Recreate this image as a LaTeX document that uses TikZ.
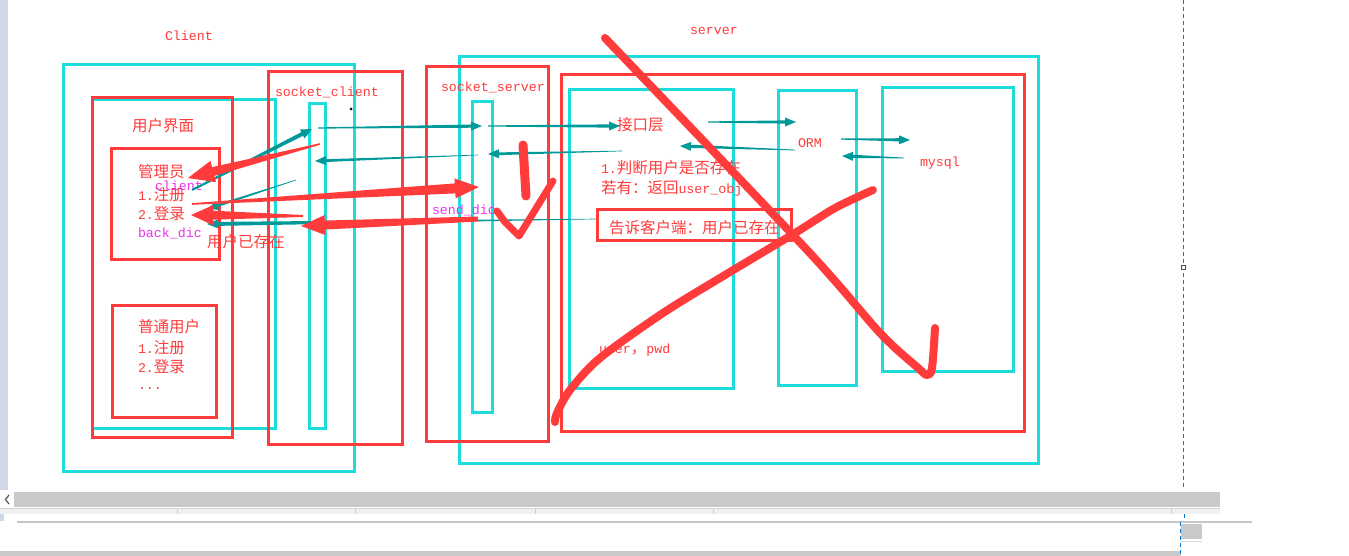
\documentclass[tikz,border=0pt]{standalone}
\usepackage{fontspec}
\setmainfont{Liberation Mono}
\newfontfamily\cjk{Noto Sans CJK SC}
\usetikzlibrary{calc}
\definecolor{cred}{HTML}{FF3B3B}
\definecolor{ccyan}{HTML}{1CDCDC}
\definecolor{cteal}{HTML}{009999}
\definecolor{cmag}{HTML}{EE33EE}
\definecolor{cside}{HTML}{D0D9E8}
\definecolor{cgray}{HTML}{C9C9C9}
\definecolor{clight}{HTML}{F0F0F0}
\definecolor{cblue}{HTML}{0A78D2}
\newcommand{\zh}[1]{{\cjk\fontsize{15.5}{18}\selectfont #1}}
% tapered arrow: color, from, to, tail half-width, shaft half-width, head length, head half-width
\newcommand{\tarrow}[7]{%
  \coordinate (tH) at ($(#3)!#6!(#2)$);
  \fill[#1] ($(#2)!#4!90:(#3)$) -- ($(tH)!#5!-90:(#2)$) -- ($(tH)!#7!-90:(#2)$) -- (#3)
    -- ($(tH)!#7!90:(#2)$) -- ($(tH)!#5!90:(#2)$) -- ($(#2)!#4!-90:(#3)$) -- cycle;}
\tikzset{
  txt/.style={inner sep=0pt, outer sep=0pt, anchor=west, text=cred, font=\fontsize{13.3}{16}\selectfont},
  mtxt/.style={txt, text=cmag},
  cbox/.style={draw=ccyan, line width=3pt},
  rbox/.style={draw=cred, line width=3pt},
  stroke/.style={draw=cred, line width=8pt, line cap=round, line join=round},
}
\begin{document}
\begin{tikzpicture}[x=1pt, y=-1pt]
\useasboundingbox (0,0) rectangle (1349,556);
\fill[white] (0,0) rectangle (1349,556);

% window chrome
\fill[cside] (0,0) rectangle (8,490);
\fill[cside] (0,512) rectangle (4,521);
\fill[cgray] (14,492) rectangle (1220,507);
\draw[gray!70!black, line width=1.2pt] (9,495) -- (5.5,499.5) -- (9,504);
\fill[clight] (0,508) rectangle (1220,514);
\draw[gray!35, line width=1pt] (0,508.5) -- (1220,508.5);
\foreach \xx in {177,355,535,713,1171} \draw[gray!40, line width=1pt] (\xx,509) -- (\xx,514);
\draw[gray!45, line width=1.2pt] (17,522) -- (1252,522);
\fill[cgray] (1181,524) rectangle (1202,539);
\draw[gray!30, line width=1pt] (1181,541) -- (1202,541);
\fill[cgray] (0,551) rectangle (1181,556);
\draw[cblue, line width=1pt, dash pattern=on 4pt off 3pt] (1183,0) -- (1183,490);
\draw[cblue, line width=1pt] (1184,514) -- (1184,518);
\draw[cblue, line width=1pt, dash pattern=on 4pt off 3pt] (1180,522) -- (1180,556);
\draw[gray!60!black, line width=0.8pt, fill=white] (1181,265) rectangle (1185,269);

% client side boxes
\draw[cbox] (63,65) rectangle (354,471);
\draw[cbox] (92,100) rectangle (275,428);
\draw[rbox] (92,98) rectangle (232,437);
\draw[rbox] (111,149) rectangle (219,259);
\draw[rbox] (112,305) rectangle (216,417);
\draw[rbox] (268,72) rectangle (402,444);
\draw[cbox] (309,104) rectangle (325,428);

% server side boxes
\draw[cbox] (459,57) rectangle (1038,463);
\draw[rbox] (426,67) rectangle (548,441);
\draw[cbox] (472,102) rectangle (492,412);
\draw[rbox] (561,75) rectangle (1024,431);
\draw[cbox] (569,90) rectangle (733,388);
\draw[cbox] (778,91) rectangle (856,385);
\draw[cbox] (882,88) rectangle (1013,371);
\draw[rbox] (597,210) rectangle (791,240);

\fill (351,109) circle (1.5);

% texts
\node[txt] (tclient) at (165,36) {Client};
\node[txt] (tserver) at (690,31) {server};
\node[txt] (tui) at (132,126) {\zh{用户界面}};
\node[txt] (tadm) at (138,172) {\zh{管理员}};
\node[txt] (tadm1) at (138,195) {1.\zh{注册}};
\node[txt] (tadm2) at (138,214) {2.\zh{登录}};
\node[mtxt] (tcl) at (155,186) {client};
\node[mtxt] (tback) at (138,233) {back\_dic};
\node[txt] (texists) at (207,242) {\zh{用户已存在}};
\node[txt] (tnorm) at (138,327) {\zh{普通用户}};
\node[txt] (tn1) at (138,348) {1.\zh{注册}};
\node[txt] (tn2) at (138,367) {2.\zh{登录}};
\node[txt] (tn3) at (138,389) {...};
\node[txt] (tsc) at (275,92) {socket\_client};
\node[txt] (tss) at (441,87) {socket\_server};
\node[txt] (tapi) at (617,125) {\zh{接口层}};
\node[txt] (torm) at (798,143) {ORM};
\node[txt] (tmysql) at (920,163) {mysql};
\node[txt] (tj1) at (601,168) {1.\zh{判断用户是否存在}};
\node[txt] (tj2) at (601,188) {\zh{若有：返回}user\_obj};
\node[txt] (ttell) at (609,228) {\zh{告诉客户端：用户已存在}};
\node[txt] (tup) at (599,350) {user\zh{，}pwd};
\node[mtxt] (tsend) at (432,210) {send\_dic};

% connector end points
\coordinate (a1s) at (192,190);  \coordinate (a1e) at (312,129);
\coordinate (a2s) at (318,128);  \coordinate (a2e) at (482,126);
\coordinate (a3s) at (488,126);  \coordinate (a3e) at (620,126);
\coordinate (a4s) at (708,122);  \coordinate (a4e) at (796,122);
\coordinate (a5s) at (795,150);  \coordinate (a5e) at (680,146);
\coordinate (a6s) at (841,139);  \coordinate (a6e) at (910,140);
\coordinate (a7s) at (904,158);  \coordinate (a7e) at (842,156);
\coordinate (a8s) at (622,151);  \coordinate (a8e) at (488,154);
\coordinate (a9s) at (478,155);  \coordinate (a9e) at (315,161);
\coordinate (a10s) at (296,180); \coordinate (a10e) at (207,209);
\coordinate (a11s) at (596,219); \coordinate (a11e) at (207,224);

\tarrow{cteal}{a1s}{a1e}{1pt}{2pt}{11pt}{5pt}
\tarrow{cteal}{a2s}{a2e}{0.6pt}{1.6pt}{11pt}{4.5pt}
\tarrow{cteal}{a3s}{a3e}{0.6pt}{1.6pt}{11pt}{4.5pt}
\tarrow{cteal}{a4s}{a4e}{0.6pt}{1.6pt}{11pt}{4.5pt}
\tarrow{cteal}{a5s}{a5e}{0.4pt}{1.6pt}{11pt}{4.5pt}
\tarrow{cteal}{a6s}{a6e}{0.6pt}{1.6pt}{11pt}{4.5pt}
\tarrow{cteal}{a7s}{a7e}{0.4pt}{1.6pt}{11pt}{4.5pt}
\tarrow{cteal}{a8s}{a8e}{0.3pt}{1.4pt}{11pt}{4.5pt}
\tarrow{cteal}{a9s}{a9e}{0.3pt}{1.4pt}{11pt}{4.5pt}
\tarrow{cteal}{a10s}{a10e}{0.3pt}{1.4pt}{11pt}{4.5pt}
\tarrow{cteal}{a11s}{a11e}{0.3pt}{2pt}{11pt}{4.5pt}

\coordinate (r1s) at (320,144); \coordinate (r1e) at (188,178);
\coordinate (r2s) at (192,204); \coordinate (r2e) at (479,187);
\coordinate (r3s) at (303,216); \coordinate (r3e) at (191,215);
\coordinate (r4s) at (478,219); \coordinate (r4e) at (301,226);

\tarrow{cred}{r1s}{r1e}{0.8pt}{4.5pt}{26pt}{11pt}
\tarrow{cred}{r2s}{r2e}{0.8pt}{5pt}{24pt}{10pt}
\tarrow{cred}{r3s}{r3e}{1pt}{4.5pt}{22pt}{10pt}
\tarrow{cred}{r4s}{r4e}{2.5pt}{4.5pt}{24pt}{10pt}

% hand drawn marks
\draw[stroke, line width=9pt] (523,145) -- (526,196);
\draw[stroke, line width=7pt] (497,211) -- (505,222) -- (519,236) -- (553,181);
\draw[stroke] plot[smooth, tension=0.5] coordinates {(605,38) (807,250) (880,333) (917,367) (927,375) (932,368) (935,328)};
\draw[stroke] plot[smooth, tension=0.5] coordinates {(873,190) (835,208) (795,233) (720,278) (663,313) (600,358) (570,390) (557,413) (555,422)};
\end{tikzpicture}
\end{document}
